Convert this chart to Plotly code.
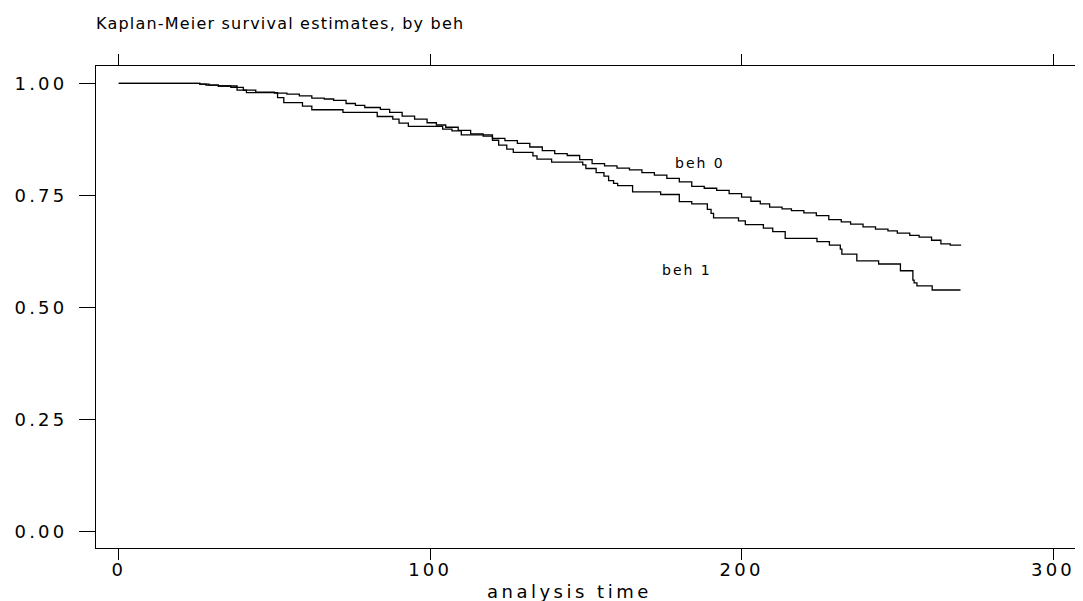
import plotly.graph_objects as go

# Kaplan-Meier step points (time of drop, survival after drop)
beh0_time = [0, 26, 28, 32, 36, 40, 44, 50, 54, 58, 62, 66, 69, 73, 76, 79, 84, 87, 91, 95,
             99, 102, 105, 109, 113, 117, 120, 124, 128, 132, 136, 140, 144, 148, 152, 156,
             160, 164, 168, 172, 176, 180, 184, 188, 192, 196, 200, 203, 206, 209, 213, 216,
             220, 224, 228, 232, 235, 239, 243, 247, 250, 254, 257, 261, 264, 267, 270.5]
beh0_surv = [1.000, 0.998, 0.996, 0.994, 0.991, 0.985, 0.980, 0.978, 0.976, 0.972, 0.967, 0.965,
             0.962, 0.955, 0.951, 0.946, 0.942, 0.935, 0.927, 0.920, 0.912, 0.907, 0.902, 0.895,
             0.887, 0.882, 0.877, 0.872, 0.866, 0.858, 0.850, 0.843, 0.839, 0.830, 0.821, 0.816,
             0.811, 0.807, 0.801, 0.795, 0.788, 0.780, 0.770, 0.766, 0.761, 0.754, 0.746, 0.737,
             0.731, 0.724, 0.720, 0.716, 0.711, 0.705, 0.696, 0.691, 0.686, 0.680, 0.675, 0.671,
             0.666, 0.661, 0.657, 0.650, 0.642, 0.639, 0.639]

beh1_time = [0, 26, 29, 32, 38, 41, 51, 53, 59, 62, 72, 83, 88, 90, 93, 104, 107, 110, 120, 122,
             124.6, 126.7, 133, 134.3, 139, 149, 150, 153.3, 155.8, 157.3, 158.9, 160.2, 165, 174,
             180, 184, 189, 190.2, 191, 199, 201.2, 207, 210, 214, 224.2, 228.2, 231.7, 232.2,
             237, 244, 251, 255, 255.4, 256.3, 261.2, 270.3]
beh1_surv = [1.000, 0.998, 0.996, 0.994, 0.985, 0.979, 0.968, 0.957, 0.949, 0.941, 0.935, 0.926,
             0.920, 0.911, 0.904, 0.898, 0.894, 0.885, 0.873, 0.862, 0.853, 0.846, 0.838, 0.831,
             0.824, 0.818, 0.810, 0.801, 0.793, 0.783, 0.777, 0.772, 0.758, 0.752, 0.736, 0.731,
             0.719, 0.710, 0.700, 0.693, 0.685, 0.677, 0.669, 0.654, 0.647, 0.639, 0.630, 0.619,
             0.604, 0.597, 0.582, 0.561, 0.555, 0.548, 0.539, 0.539]

x_ticks = [0, 100, 200, 300]
x_ticktext = ["0", "100", "200", "300"]
y_ticks = [0.0, 0.25, 0.5, 0.75, 1.0]
y_ticktext = ["0.00", "0.25", "0.50", "0.75", "1.00"]

labels = ["beh 0", "beh 1"]
label_x = [186.5, 182.5]
label_y = [0.822, 0.583]

FONT = "DejaVu Sans, Liberation Sans, Arial, sans-serif"


def spaced(text, px):
    return f'<span style="letter-spacing:{px}px">{text}</span>'


# page body has an 8px margin: figure is sized/offset to compensate
W, H = 1075, 593

fig = go.Figure()
for t, s, name in [(beh0_time, beh0_surv, labels[0]), (beh1_time, beh1_surv, labels[1])]:
    fig.add_trace(go.Scatter(x=t, y=s, mode="lines", line=dict(shape="hv", color="black", width=1.3),
                             name=name, showlegend=False, hoverinfo="x+y"))

for txt, lx, ly in zip(labels, label_x, label_y):
    fig.add_annotation(x=lx, y=ly, text=spaced(txt, 2), showarrow=False,
                       font=dict(family=FONT, size=14, color="black"))

# x-axis title (placed slightly left of centre, as in the reference)
fig.add_annotation(xref="paper", yref="paper", x=(569 - 96) / 981, y=(548 - 591) / 482,
                   xanchor="center", yanchor="middle", showarrow=False,
                   text=spaced("analysis time", 3.5), font=dict(family=FONT, size=18, color="black"))

fig.update_layout(
    width=W, height=H,
    margin=dict(l=88, r=6, t=58, b=53),
    paper_bgcolor="white", plot_bgcolor="white",
    font=dict(family=FONT, color="black"),
    title=dict(text=spaced("Kaplan-Meier survival estimates, by beh", 1.2), x=88/W, xanchor="left",
               y=1 - 15/H, yanchor="middle", font=dict(family=FONT, size=16, color="black")),
)
fig.update_xaxes(range=[-7.3, 307.7], tickvals=x_ticks, ticktext=[spaced(t, 3.2) for t in x_ticktext],
                 ticks="outside", ticklen=11, tickwidth=1, automargin=False, ticklabelstandoff=-6,
                 tickcolor="black", showline=True, linecolor="black", linewidth=1, mirror="ticks",
                 showgrid=False, zeroline=False, tickfont=dict(family=FONT, size=18))
fig.update_yaxes(range=[-0.0364, 1.0386], tickvals=y_ticks, ticktext=[spaced(t, 3.2) for t in y_ticktext],
                 ticks="outside", automargin=False,
                 ticklen=16, tickwidth=1, tickcolor="black", showline=True, linecolor="black",
                 linewidth=1, mirror="ticks", showgrid=False, zeroline=False,
                 tickfont=dict(family=FONT, size=18), ticklabelstandoff=8)

fig.write_html("out.html")
